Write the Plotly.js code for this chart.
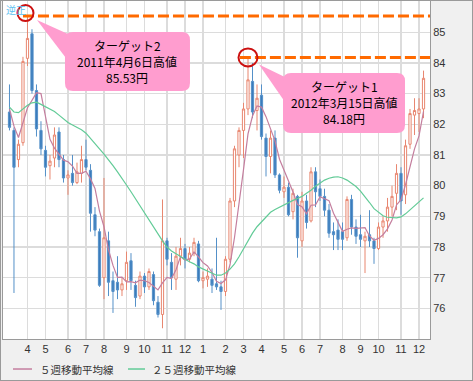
<!DOCTYPE html>
<html>
<head>
<meta charset="utf-8">
<script src="https://cdn.plot.ly/plotly-3.0.1.min.js"></script>
<style>
  html, body { margin: 0; padding: 0; background: #f0f0f0; }
  #chart { width: 471px; height: 379px; border: 1px solid #9a9a9a; }
</style>
</head>
<body>
<div id="chart"></div>
<script>
// Weekly USD/JPY candles, week of 2011-03-07 .. week of 2012-12-10
const opens = [82.4, 81.8, 80.85, 81.4, 84.15, 84.95, 83.1, 81.8, 81.15, 80.65,
  80.9, 81.75, 80.85, 80.25, 80.4, 80.1, 80.4, 80.85, 80.5, 79.05,
  78.5, 77.0, 78.2, 76.9, 76.85, 76.6, 76.9, 77.55, 76.75, 76.4,
  77.05, 76.7, 77.1, 76.2, 75.8, 78.2, 77.5, 76.95, 77.7, 77.95,
  77.6, 77.8, 78.1, 76.9, 76.95, 76.95, 76.8, 76.7, 76.55, 77.6,
  79.5, 81.0, 81.8, 82.5, 83.4, 82.45, 82.95, 81.55, 80.95, 81.55,
  80.35, 79.8, 79.95, 79.15, 79.65, 78.2, 79.5, 78.85, 80.45, 79.9,
  79.65, 79.2, 78.5, 78.55, 78.5, 78.3, 79.55, 78.65, 78.4, 78.2,
  78.4, 78.2, 77.95, 78.65, 78.85, 79.3, 79.75, 80.4, 79.7, 81.35,
  82.3, 82.35, 82.5];
const highs = [83.3, 81.9, 81.5, 84.2, 85.53, 85.1, 83.3, 82.1, 81.3, 81.0,
  81.9, 81.9, 81.0, 80.5, 81.0, 80.75, 81.3, 81.5, 80.7, 79.3,
  78.6, 80.25, 78.5, 77.2, 77.7, 77.0, 77.85, 77.8, 76.9, 77.2,
  77.15, 77.3, 77.2, 76.4, 79.55, 78.3, 77.8, 78.0, 78.3, 78.1,
  78.0, 78.3, 78.2, 77.2, 77.3, 77.3, 78.3, 76.9, 77.7, 79.6,
  81.3, 81.9, 82.7, 84.18, 84.0, 83.3, 83.3, 81.7, 81.8, 81.8,
  80.4, 80.3, 80.1, 79.9, 79.7, 79.8, 79.7, 80.6, 80.6, 80.2,
  79.9, 79.4, 78.8, 78.9, 78.8, 79.65, 79.7, 78.9, 79.05, 78.5,
  79.2, 78.3, 78.8, 79.0, 79.6, 80.0, 80.7, 80.6, 81.5, 82.5,
  82.85, 82.85, 83.75];
const lows = [81.8, 76.5, 80.6, 81.3, 83.9, 83.0, 81.6, 81.0, 80.3, 80.2,
  80.6, 80.6, 80.1, 79.7, 80.0, 80.05, 80.1, 80.5, 78.5, 78.35,
  76.7, 76.3, 76.4, 75.85, 76.3, 76.4, 76.6, 76.6, 76.05, 76.3,
  76.5, 76.6, 76.1, 75.7, 75.35, 77.4, 76.6, 76.6, 77.4, 77.3,
  77.5, 77.7, 76.85, 76.65, 76.7, 76.5, 76.6, 75.95, 76.4, 77.5,
  79.3, 80.6, 80.9, 82.3, 82.2, 81.8, 81.5, 80.3, 80.4, 80.25,
  79.75, 79.6, 79.0, 78.9, 77.65, 78.0, 78.6, 78.8, 79.3, 79.5,
  79.0, 78.3, 77.9, 77.9, 77.9, 78.2, 78.4, 78.1, 78.0, 77.15,
  78.0, 77.45, 77.9, 78.3, 78.5, 79.0, 79.2, 79.05, 79.4, 81.2,
  81.65, 81.75, 82.2];
const closes = [81.9, 80.6, 81.35, 84.05, 84.8, 83.1, 81.85, 81.2, 80.6, 80.8,
  81.65, 80.85, 80.25, 80.35, 80.1, 80.45, 80.85, 80.6, 79.1, 78.55,
  76.75, 78.3, 76.85, 76.55, 76.6, 76.8, 77.5, 76.9, 76.35, 77.05,
  76.7, 77.2, 76.25, 75.8, 78.2, 77.6, 77.0, 77.7, 77.95, 77.6,
  77.8, 78.15, 76.9, 77.0, 77.05, 76.75, 76.7, 76.55, 77.6, 79.5,
  81.2, 81.8, 82.5, 83.45, 82.4, 82.85, 81.6, 80.95, 81.55, 80.35,
  79.85, 79.95, 79.05, 79.75, 78.3, 79.5, 78.8, 80.45, 79.8, 79.65,
  79.2, 78.45, 78.4, 78.25, 78.25, 79.55, 78.65, 78.35, 78.25, 78.35,
  78.2, 77.95, 78.65, 78.85, 79.3, 79.65, 80.4, 79.5, 81.3, 82.35,
  82.45, 82.5, 83.5];
// the four weekly closes before the first drawn week (needed for the first 5-week averages)
const priorCloses = [83.4, 83.2, 81.7, 82.3];
// 25-week moving average
const ma25 = [82.56, 82.40, 82.38, 82.50, 82.62, 82.70, 82.72, 82.65, 82.58, 82.50,
  82.42, 82.30, 82.18, 82.06, 81.98, 81.90, 81.82, 81.71, 81.55, 81.38,
  81.20, 81.03, 80.85, 80.65, 80.45, 80.25, 80.02, 79.80, 79.57, 79.33,
  79.10, 78.88, 78.66, 78.40, 78.20, 78.00, 77.87, 77.78, 77.68, 77.60,
  77.52, 77.45, 77.35, 77.28, 77.22, 77.16, 77.08, 77.08, 77.15, 77.28,
  77.45, 77.68, 77.95, 78.20, 78.45, 78.66, 78.82, 79.00, 79.13, 79.22,
  79.30, 79.38, 79.46, 79.52, 79.58, 79.65, 79.75, 79.85, 79.98, 80.09,
  80.18, 80.24, 80.28, 80.29, 80.25, 80.18, 80.08, 79.97, 79.82, 79.65,
  79.45, 79.25, 79.12, 79.02, 78.97, 78.95, 78.95, 78.98, 79.08, 79.21,
  79.35, 79.48, 79.60];
// month ticks: week index of the first week of each month, and label
const monthTickWeeks = [4, 8, 13, 17, 21, 26, 30, 35, 39, 43, 48, 52, 56, 61, 65, 69, 74, 78, 82, 87, 91];
const monthLabels = ['4', '5', '6', '7', '8', '9', '10', '11', '12', '1', '2', '3', '4', '5', '6', '7', '8', '9', '10', '11', '12'];
const yTicks = [76, 77, 78, 79, 80, 81, 82, 83, 84, 85];
// targets
const targetWeeks = [4, 53];
const targetValues = [85.53, 84.18];
const targetLines = [
  ['ターゲット2', '2011年4月6日高値', '85.53円'],
  ['ターゲット1', '2012年3月15日高値', '84.18円']
];
const seriesNames = ['５週移動平均線', '２５週移動平均線'];
const seriesColors = ['#c47e9e', '#62cb97'];

const weekIndex = closes.map((_, i) => i);
const allCloses = priorCloses.concat(closes);
const ma5 = closes.map((_, i) => {
  let s = 0;
  for (let j = i; j < i + 5; j++) s += allCloses[j];
  return s / 5;
});

const traces = [
  {
    type: 'candlestick', x: weekIndex, open: opens, high: highs, low: lows, close: closes,
    increasing: { line: { color: '#e8866f', width: 1 }, fillcolor: '#ffffff' },
    decreasing: { line: { color: '#5490c8', width: 1 }, fillcolor: '#3b7cbc' },
    showlegend: false, hoverinfo: 'skip'
  },
  {
    type: 'scatter', mode: 'lines', x: weekIndex, y: ma5, name: seriesNames[0],
    line: { color: seriesColors[0], width: 1.2 }, hoverinfo: 'skip', showlegend: false
  },
  {
    type: 'scatter', mode: 'lines', x: weekIndex, y: ma25, name: seriesNames[1],
    line: { color: seriesColors[1], width: 1.2 }, hoverinfo: 'skip', showlegend: false
  }
];

const pink = '#ff9dcf';
function rrect(x0, x1, yTop, yBot, r) {
  return `M ${x0 + r},${yTop} L ${x1 - r},${yTop} Q ${x1},${yTop} ${x1},${yTop - r} ` +
    `L ${x1},${yBot + r} Q ${x1},${yBot} ${x1 - r},${yBot} L ${x0 + r},${yBot} ` +
    `Q ${x0},${yBot} ${x0},${yBot + r} L ${x0},${yTop - r} Q ${x0},${yTop} ${x0 + r},${yTop} Z`;
}
const boxDef = [
  { bx0: 37.5, bx1: 162.5, top: -16, bot: -75, tip: [9.5, -4], b1: [45, -20], b2: [40, -44], lineStart: -1.0, circ: [-10, 6, -5, 11] },
  { bx0: 35, bx1: 157, top: -15.5, bot: -75.5, tip: [11, -7], b1: [42, -22], b2: [38, -46], lineStart: -1.8, circ: [-9.5, 9.5, -9, 9] }
];

const shapes = [];
const annotations = [];
targetWeeks.forEach((w, i) => {
  const v = targetValues[i];
  const d = boxDef[i];
  shapes.push({
    type: 'line', xref: 'x', yref: 'y', x0: w + d.lineStart, x1: 93.44, y0: v, y1: v,
    line: { color: '#ff6a00', width: 3, dash: '11px,4px' }
  });
  shapes.push({
    type: 'path', xref: 'x', yref: 'y', xsizemode: 'pixel', ysizemode: 'pixel', xanchor: w, yanchor: v,
    path: `M ${d.tip[0]},${d.tip[1]} L ${d.b1[0]},${d.b1[1]} L ${d.b2[0]},${d.b2[1]} Z`,
    fillcolor: pink, line: { width: 0 }
  });
  shapes.push({
    type: 'path', xref: 'x', yref: 'y', xsizemode: 'pixel', ysizemode: 'pixel', xanchor: w, yanchor: v,
    path: rrect(d.bx0, d.bx1, d.top, d.bot, 8),
    fillcolor: pink, line: { width: 0 }
  });
  shapes.push({
    type: 'circle', xref: 'x', yref: 'y', xsizemode: 'pixel', ysizemode: 'pixel', xanchor: w, yanchor: v,
    x0: d.circ[0], x1: d.circ[1], y0: d.circ[2], y1: d.circ[3],
    line: { color: '#cc1010', width: 2 }, fillcolor: 'rgba(0,0,0,0)'
  });
  const cy = (d.top + d.bot) / 2;
  targetLines[i].forEach((t, j) => {
    annotations.push({
      xref: 'x', yref: 'y', x: w, y: v, showarrow: false,
      xshift: (d.bx0 + d.bx1) / 2, yshift: cy + (1 - j) * 16,
      xanchor: 'center', yanchor: 'middle', align: 'center',
      text: t, font: { family: 'Noto Sans CJK JP', size: 12, color: '#000' }
    });
  });
});
annotations.push({
  xref: 'paper', yref: 'paper', x: 0, y: 1, xanchor: 'left', yanchor: 'top', showarrow: false,
  text: '逆正', font: { family: 'Noto Sans CJK JP', size: 10, color: '#5cc0f0' }, xshift: 1, yshift: 1
});

// legend drawn below the plot (paper coordinates)
const legendY = -0.0888;
const legendItems = [
  { lx0: 0.0234, lx1: 0.0679, tx: 0.082 },
  { lx0: 0.2927, lx1: 0.3326, tx: 0.3443 }
];
legendItems.forEach((it, i) => {
  shapes.push({
    type: 'line', xref: 'paper', yref: 'paper', x0: it.lx0, x1: it.lx1, y0: legendY, y1: legendY,
    line: { color: seriesColors[i], width: 1.5 }
  });
  annotations.push({
    xref: 'paper', yref: 'paper', x: it.tx, y: legendY, xanchor: 'left', yanchor: 'middle',
    showarrow: false, text: seriesNames[i],
    font: { family: 'Noto Sans CJK JP', size: 10.5, color: '#333' }
  });
});

const layout = {
  width: 471, height: 379,
  margin: { l: 2, r: 42, t: 0, b: 41 },
  paper_bgcolor: '#f0f0f0', plot_bgcolor: '#ffffff',
  showlegend: false,
  xaxis: {
    type: 'linear', range: [-1.44, 93.44], tickmode: 'array', tickvals: monthTickWeeks, ticktext: monthLabels,
    showgrid: true, gridcolor: '#dcdcdc', gridwidth: 1.5, zeroline: false,
    showline: true, linecolor: '#9a9a9a', linewidth: 1, mirror: true, ticks: '',
    tickfont: { family: 'Liberation Sans', size: 11, color: '#333' },
    rangeslider: { visible: false }, fixedrange: true
  },
  yaxis: {
    side: 'right', range: [75.0, 86.02], tickmode: 'array', tickvals: yTicks,
    showgrid: true, gridcolor: '#dcdcdc', gridwidth: 1.5, zeroline: false,
    showline: true, linecolor: '#9a9a9a', linewidth: 1, mirror: true, ticks: '',
    tickfont: { family: 'Liberation Sans', size: 11, color: '#333' }, fixedrange: true
  },
  shapes: shapes,
  annotations: annotations
};

Plotly.newPlot('chart', traces, layout, { displayModeBar: false, staticPlot: true });
</script>
</body>
</html>
